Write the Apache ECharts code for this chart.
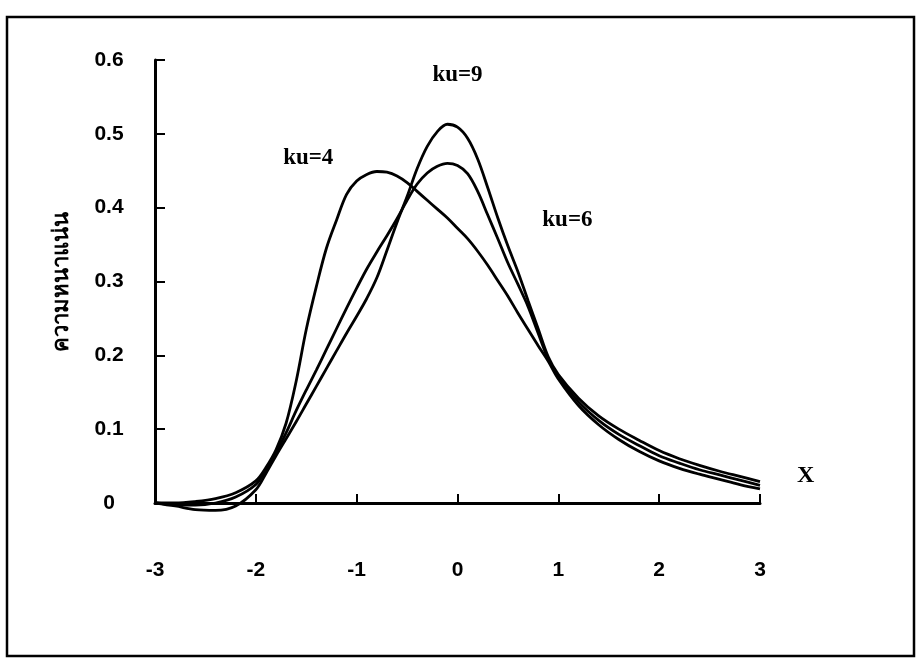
<!DOCTYPE html>
<html>
<head>
<meta charset="utf-8">
<script src="https://cdn.jsdelivr.net/npm/echarts@6/dist/echarts.min.js"></script>
<style>
  html, body { margin: 0; padding: 0; background: #fff; }
  #chart { width: 921px; height: 661px; }
</style>
</head>
<body>
<div id="chart"></div>
<script>
// x positions of the sampled density values
const xValues = [-3, -2.8, -2.6, -2.4, -2.2, -2.0, -1.9, -1.8, -1.7, -1.6, -1.5, -1.4, -1.3, -1.2, -1.1,
  -1.0, -0.9, -0.8, -0.7, -0.6, -0.5, -0.4, -0.3, -0.2, -0.1, 0, 0.1, 0.2, 0.3, 0.4, 0.5, 0.6, 0.7,
  0.8, 0.9, 1.0, 1.2, 1.4, 1.6, 1.8, 2.0, 2.2, 2.4, 2.6, 2.8, 3.0];

// density curve, kurtosis 4
const densityKu4 = [0, 0, 0.002, 0.006, 0.014, 0.03, 0.048, 0.072, 0.108, 0.165, 0.235, 0.293, 0.345, 0.383, 0.418,
  0.436, 0.445, 0.449, 0.448, 0.443, 0.434, 0.422, 0.41, 0.398, 0.386, 0.372, 0.358, 0.341, 0.322, 0.301, 0.28, 0.257, 0.235,
  0.213, 0.192, 0.168, 0.132, 0.106, 0.086, 0.07, 0.057, 0.047, 0.039, 0.032, 0.025, 0.019];

// density curve, kurtosis 6
const densityKu6 = [0, -0.002, -0.003, 0, 0.008, 0.025, 0.045, 0.068, 0.095, 0.125, 0.153, 0.18, 0.208, 0.236, 0.264,
  0.291, 0.317, 0.34, 0.362, 0.385, 0.41, 0.432, 0.447, 0.456, 0.46, 0.457, 0.446, 0.422, 0.39, 0.358, 0.325, 0.296, 0.266,
  0.23, 0.195, 0.171, 0.137, 0.112, 0.093, 0.078, 0.064, 0.054, 0.045, 0.038, 0.031, 0.024];

// density curve, kurtosis 9
const densityKu9 = [0, -0.004, -0.009, -0.01, -0.004, 0.018, 0.04, 0.064, 0.087, 0.11, 0.134, 0.158, 0.182, 0.206, 0.23,
  0.253, 0.277, 0.305, 0.342, 0.38, 0.415, 0.453, 0.483, 0.503, 0.513, 0.509, 0.494, 0.466, 0.427, 0.386, 0.348, 0.313, 0.274,
  0.236, 0.198, 0.174, 0.142, 0.118, 0.1, 0.085, 0.071, 0.06, 0.051, 0.043, 0.036, 0.029];

const seriesNames = ['ku=4', 'ku=6', 'ku=9'];
// where each curve's name is written, in data units
const nameSpots = [[-1.48, 0.467], [1.09, 0.383], [0.0, 0.58]];

const curves = [densityKu4, densityKu6, densityKu9];

const chart = echarts.init(document.getElementById('chart'), null, { renderer: 'canvas' });

const tickFont = { fontFamily: 'Liberation Sans, Arial, sans-serif', fontWeight: 'bold', fontSize: 21, color: '#000' };

chart.setOption({
  animation: false,
  backgroundColor: '#fff',
  grid: { left: 155, right: 161, top: 60, bottom: 158, containLabel: false },
  xAxis: {
    type: 'value',
    min: -3, max: 3, interval: 1,
    name: 'X',
    nameLocation: 'end',
    nameGap: 37,
    nameTextStyle: {
      fontFamily: 'Liberation Serif, Times New Roman, serif', fontWeight: 'bold', fontSize: 24, color: '#000',
      verticalAlign: 'bottom', padding: [0, 0, 15, 0]
    },
    axisLine: { show: true, onZero: false, lineStyle: { color: '#000', width: 3 } },
    axisTick: { show: true, inside: true, length: 9, lineStyle: { color: '#000', width: 2 } },
    axisLabel: Object.assign({ margin: 57 }, tickFont),
    splitLine: { show: false }
  },
  yAxis: {
    type: 'value',
    min: 0, max: 0.6, interval: 0.1,
    name: 'ความหนาแน่น',
    nameLocation: 'middle',
    nameRotate: 90,
    nameGap: 82,
    nameTextStyle: { fontFamily: 'Noto Sans, DejaVu Sans, sans-serif', fontWeight: 'bold', fontSize: 22, color: '#000' },
    axisLine: { show: true, onZero: false, lineStyle: { color: '#000', width: 3 } },
    axisTick: { show: true, inside: true, length: 10, lineStyle: { color: '#000', width: 2 } },
    axisLabel: Object.assign({ margin: 46, align: 'center' }, tickFont),
    splitLine: { show: false }
  },
  graphic: [{
    type: 'rect',
    shape: { x: 7, y: 17, width: 907, height: 639 },
    style: { fill: 'none', stroke: '#000', lineWidth: 2.5 },
    silent: true
  }],
  series: curves.map((vals, i) => ({
    name: seriesNames[i],
    type: 'line',
    smooth: 0.35,
    showSymbol: false,
    clip: false,
    lineStyle: { color: '#000', width: 2.8 },
    data: xValues.map((x, k) => [x, vals[k]]),
    markPoint: {
      symbol: 'circle',
      symbolSize: 0,
      label: {
        show: true,
        position: 'inside',
        formatter: seriesNames[i],
        fontFamily: 'Liberation Serif, Times New Roman, serif',
        fontWeight: 'bold',
        fontSize: 23,
        color: '#000'
      },
      data: [{ coord: nameSpots[i] }]
    }
  }))
});
</script>
</body>
</html>
